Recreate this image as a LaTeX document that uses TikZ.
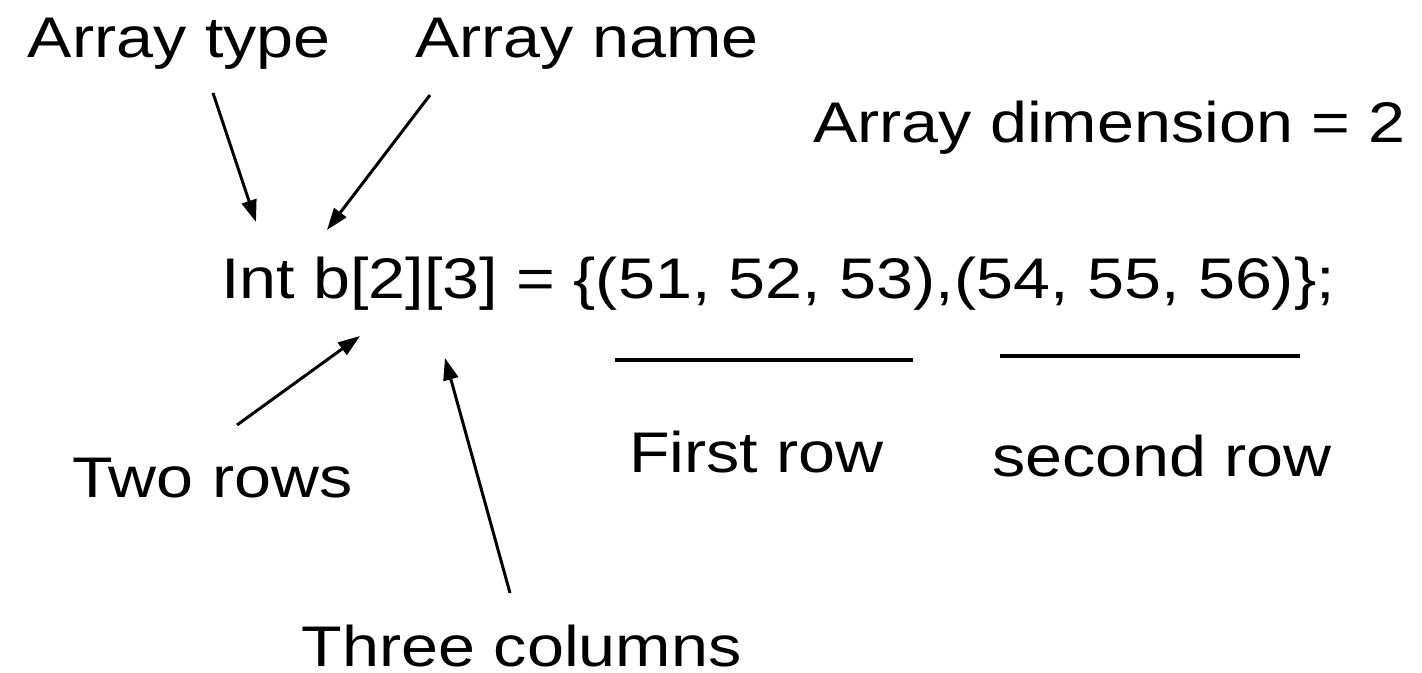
\documentclass[tikz,border=0pt]{standalone}
\usepackage{fontspec}
\setmainfont{Liberation Sans}[FakeStretch=1.16]
\usetikzlibrary{arrows.meta}
\begin{document}
\begin{tikzpicture}[x=1cm,y=1cm,
  lbl/.style={anchor=base west,inner sep=0pt,outer sep=0pt,font=\fontsize{16.3}{20}\selectfont},
  pointer/.style={line width=0.85pt,-{Triangle[length=0.22cm,width=0.15cm]}},
  rule/.style={line width=1.1pt}]
\useasboundingbox (0,0) rectangle (14.22,-6.73);
% labels
\node[lbl] (type) at (0.28,-0.58) {Array type};
\node[lbl] (name) at (4.15,-0.58) {Array name};
\node[lbl] (dim) at (8.13,-1.43) {Array dimension = 2};
\node[lbl] (decl) at (2.21,-2.99) {Int b[2][3] = \{(51, 52, 53),(54, 55, 56)\};};
\node[lbl] (first) at (6.29,-4.73) {First row};
\node[lbl] (second) at (9.92,-4.77) {second row};
\node[lbl] (rows) at (0.72,-4.98) {Two rows};
\node[lbl] (cols) at (3.02,-6.66) {Three columns};
% arrow ends
\coordinate (typeTail) at (2.13,-0.93);
\coordinate (typeTip) at (2.56,-2.22);
\coordinate (nameTail) at (4.30,-0.95);
\coordinate (nameTip) at (3.27,-2.30);
\coordinate (rowsTail) at (2.37,-4.25);
\coordinate (rowsTip) at (3.60,-3.36);
\coordinate (colsTail) at (5.10,-5.93);
\coordinate (colsTip) at (4.45,-3.58);
\draw[pointer] (typeTail) -- (typeTip);
\draw[pointer] (nameTail) -- (nameTip);
\draw[pointer] (rowsTail) -- (rowsTip);
\draw[pointer] (colsTail) -- (colsTip);
% underlines
\coordinate (r1a) at (6.15,-3.60);
\coordinate (r1b) at (9.13,-3.60);
\coordinate (r2a) at (10.00,-3.56);
\coordinate (r2b) at (13.00,-3.56);
\draw[rule] (r1a) -- (r1b);
\draw[rule] (r2a) -- (r2b);
\end{tikzpicture}
\end{document}
